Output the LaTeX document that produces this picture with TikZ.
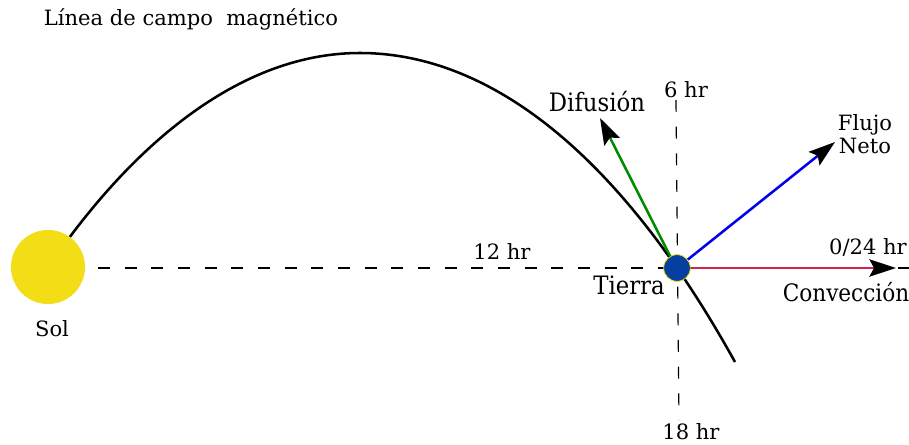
\documentclass[tikz,border=0pt]{standalone}
\usepackage{fontspec}
\setmainfont{DejaVu Serif}
\newfontfamily\condfont{DejaVu Serif Condensed}
\usetikzlibrary{arrows.meta}

\definecolor{solyellow}{RGB}{242,221,23}
\definecolor{earthblue}{RGB}{5,64,160}
\definecolor{difgreen}{RGB}{0,138,0}
\definecolor{netblue}{RGB}{0,0,238}
\definecolor{convred}{RGB}{212,35,74}

\tikzset{
  hrlabel/.style={font=\fontsize{15.8}{17}\selectfont},
  fluxlabel/.style={font=\condfont\fontsize{19}{21}\selectfont},
  guide/.style={dash pattern=on 9pt off 11pt, line width=0.9pt},
  flux/.style={line width=1.9pt, -{Stealth[length=20pt, width=13pt, inset=3.5pt, color=black]}}
}

\begin{document}
\begin{tikzpicture}[x=0.75pt, y=-0.75pt]
  \useasboundingbox (0,0) rectangle (909,445);

  % Sun and Earth
  \node[circle, fill=solyellow, minimum size=55.5pt, inner sep=0pt] (sol) at (48,267) {};
  \node[hrlabel] (sollabel) at (52,329) {Sol};

  % Guide lines (local time)
  \coordinate (hleft) at (98,268);
  \coordinate (hright) at (909,268);
  \coordinate (vtop) at (676,100);
  \coordinate (vbottom) at (679,420);
  \draw[guide] (hleft) -- (hright);
  \draw[guide] (vtop) -- (vbottom);

  % Magnetic field line
  \draw[line width=1.9pt] (sol.54)
    .. controls (150,130) and (250,53) .. (360,53)
    .. controls (480,53) and (612,140) .. (735,362);

  \node[circle, fill=earthblue, draw=solyellow, line width=0.6pt, minimum size=20pt, inner sep=0pt] (tierra) at (677,268) {};

  % Flux vectors
  \coordinate (diftip) at (600,118);
  \coordinate (nettip) at (835,142);
  \coordinate (convtip) at (896,268);
  \draw[flux, difgreen] (tierra.120) -- (diftip);
  \draw[flux, netblue] (tierra.38) -- (nettip);
  \draw[flux, convred, line width=1.6pt] (tierra.east) -- (convtip);

  % Labels
  \node[hrlabel] (title) at (191,19) {Línea de campo\ \ magnético};
  \node[hrlabel] (h12) at (502,251) {12 hr};
  \node[hrlabel] (h6) at (686,90) {6 hr};
  \node[hrlabel] (h18) at (691,432) {18 hr};
  \node[hrlabel] (h24) at (868,247) {0/24 hr};
  \node[hrlabel, align=center, inner sep=0pt] (netlabel) at (865,134) {Flujo\\ Neto};
  \node[fluxlabel] (diflabel) at (597,102) {Difusión};
  \node[fluxlabel] (tierralabel) at (629,285) {Tierra};
  \node[fluxlabel, font=\condfont\fontsize{18}{20}\selectfont] (convlabel) at (846,292) {Convección};
\end{tikzpicture}
\end{document}
